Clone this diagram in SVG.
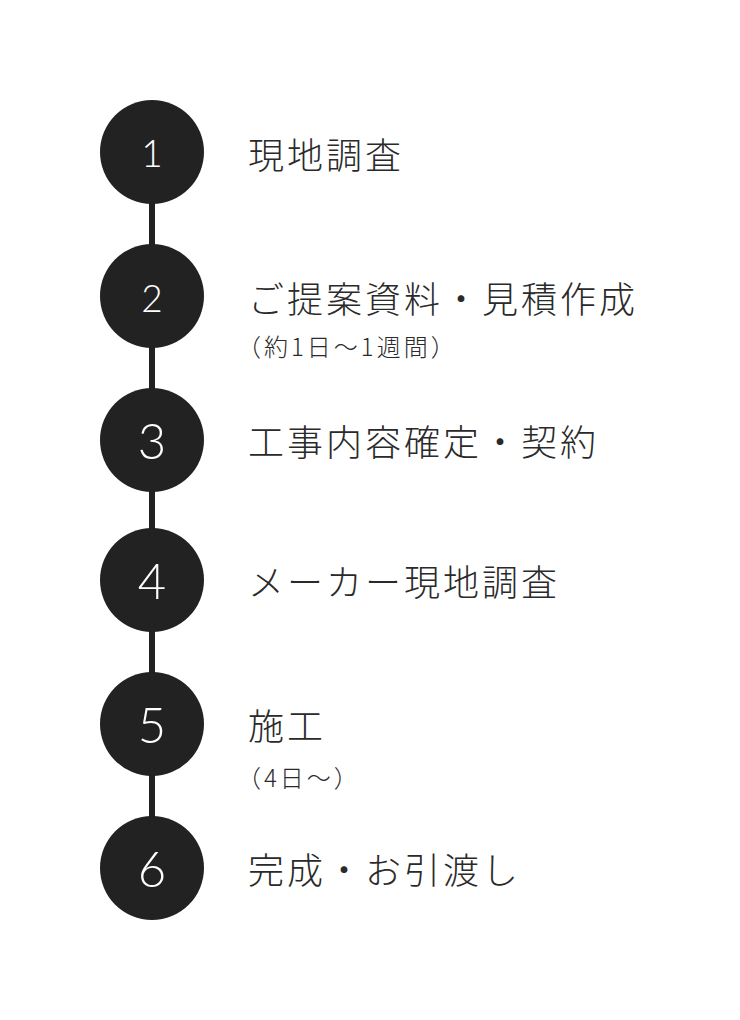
<svg xmlns="http://www.w3.org/2000/svg" width="740" height="1020" viewBox="0 0 740 1020">
<style>
.bg{fill:#ffffff}
.dot{fill:#222222}
.num{fill:#ffffff;font-family:"Lato","Open Sans","Liberation Sans",sans-serif;font-weight:300;text-anchor:middle;dominant-baseline:central}
.n1{font-size:37px}
.n2{font-size:49px}
.title{fill:#2a2a2a;font-family:"Noto Sans CJK JP","Noto Sans",sans-serif;font-weight:300;font-size:36px;letter-spacing:3px;dominant-baseline:central}
.sub{fill:#2a2a2a;font-family:"Noto Sans CJK JP","Noto Sans",sans-serif;font-weight:300;font-size:24px;letter-spacing:3px;dominant-baseline:central}
.conn{stroke:#222222;stroke-width:6;fill:none}
</style>
<rect class="bg" x="0" y="0" width="740" height="1020"/>
<g id="connectors">
<line class="conn" x1="152" y1="200" x2="152" y2="248"/>
<line class="conn" x1="152" y1="344" x2="152" y2="392"/>
<line class="conn" x1="152" y1="488" x2="152" y2="532"/>
<line class="conn" x1="152" y1="628" x2="152" y2="676"/>
<line class="conn" x1="152" y1="772" x2="152" y2="820"/>
</g>
<g id="step1">
<circle class="dot" cx="152" cy="152" r="52"/>
<text class="num n1" x="152" y="152">1</text>
<text class="title" x="248" y="153">現地調査</text>
</g>
<g id="step2">
<circle class="dot" cx="152" cy="296" r="52"/>
<text class="num n1" x="152" y="297">2</text>
<text class="title" x="248" y="297">ご提案資料・見積作成</text>
<text class="sub" x="237" y="345">（約1日～1週間）</text>
</g>
<g id="step3">
<circle class="dot" cx="152" cy="440" r="52"/>
<text class="num n2" x="152" y="440">3</text>
<text class="title" x="248" y="440">工事内容確定・契約</text>
</g>
<g id="step4">
<circle class="dot" cx="152" cy="580" r="52"/>
<text class="num n2" x="152" y="580">4</text>
<text class="title" x="248" y="580">メーカー現地調査</text>
</g>
<g id="step5">
<circle class="dot" cx="152" cy="724" r="52"/>
<text class="num n2" x="152" y="724">5</text>
<text class="title" x="248" y="724">施工</text>
<text class="sub" x="237" y="776">（4日～）</text>
</g>
<g id="step6">
<circle class="dot" cx="152" cy="868" r="52"/>
<text class="num n2" x="152" y="868">6</text>
<text class="title" x="248" y="868">完成・お引渡し</text>
</g>
</svg>
